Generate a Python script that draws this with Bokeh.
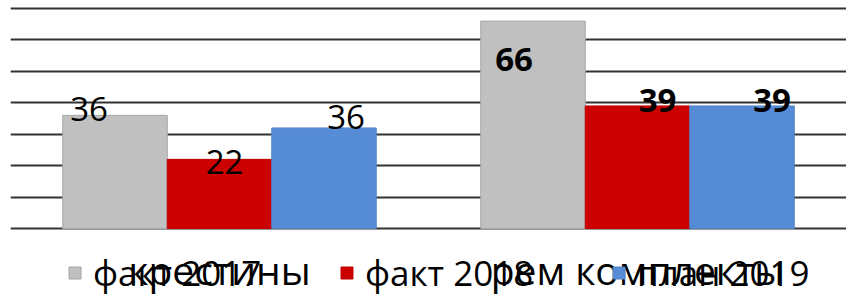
from bokeh.plotting import figure
from bokeh.models import ColumnDataSource, FactorRange, Range1d, Legend, LegendItem, FixedTicker
from bokeh.transform import dodge
from bokeh.core.properties import value
from bokeh.embed import file_html
from bokeh.resources import INLINE

# ---- data ----
categories = ["крестины", "рем комплекты"]
series_names = ["факт 2017", "факт 2018", "план 2019"]
fact_2017 = [36, 66]
fact_2018 = [22, 39]
plan_2019 = [32, 39]
labels_2017 = ["36", "66"]
labels_2018 = ["22", "39"]
labels_2019 = ["36", "39"]
y_ticks = [0, 10, 20, 30, 40, 50, 60, 70]

# ---- style ----
colors = ["#c0c0c0", "#cc0000", "#558cd5"]
outline = ["#a6a6a6", "#c00000", "#5283c8"]
offsets = [-0.25, 0.0, 0.25]
bar_w = 0.25
label_xoff = [[-26, -19], [5, 20], [22, 30]]
label_yoff = [[-6, 38], [3, -5], [-11, -5]]
label_style = ["normal", "bold"]
FONT = "Open Sans"

p = figure(width=846, height=297, x_range=FactorRange(factors=categories, range_padding=0),
           y_range=Range1d(-21.95, 72.55), output_backend="svg", toolbar_location=None,
           min_border_left=10, min_border_right=0, min_border_top=0, min_border_bottom=0)
p.outline_line_color = None
p.background_fill_color = "white"
p.border_fill_color = "white"

p.yaxis.visible = False
p.ygrid.ticker = FixedTicker(ticks=y_ticks)
p.ygrid.grid_line_color = "#333333"
p.ygrid.grid_line_width = 2
p.xgrid.grid_line_color = None

p.xaxis.fixed_location = 0
p.xaxis.axis_line_color = None
p.xaxis.major_tick_line_color = None
p.xaxis.minor_tick_line_color = None
p.xaxis.major_label_text_font = FONT
p.xaxis.major_label_text_font_size = "39px"
p.xaxis.major_label_text_color = "#000000"
p.xaxis.major_label_standoff = 8

all_vals = [fact_2017, fact_2018, plan_2019]
all_labels = [labels_2017, labels_2018, labels_2019]
items = []
for i, name in enumerate(series_names):
    src = ColumnDataSource(dict(cat=categories, val=all_vals[i], lab=all_labels[i],
                                xo=label_xoff[i], yo=label_yoff[i], st=label_style))
    r = p.vbar(x=dodge("cat", offsets[i], range=p.x_range), top="val", width=bar_w, source=src,
               fill_color=colors[i], line_color=outline[i], line_width=1)
    p.text(x=dodge("cat", offsets[i], range=p.x_range), y="val", text="lab", source=src,
           x_offset="xo", y_offset="yo", text_font=value(FONT), text_font_size="33px",
           text_font_style="st", text_align="center", text_baseline="middle", text_color="#000000")
    items.append(LegendItem(label=name, renderers=[r]))

legend = Legend(items=items, orientation="horizontal", location=(57, 1),
                label_text_font=FONT, label_text_font_size="35px", label_text_color="#000000",
                glyph_width=15, glyph_height=15, label_standoff=11, label_width=226, spacing=20,
                padding=0, margin=0, border_line_color=None, background_fill_alpha=0)
p.add_layout(legend, "center")

open("out.html", "w").write(file_html(p, INLINE))
